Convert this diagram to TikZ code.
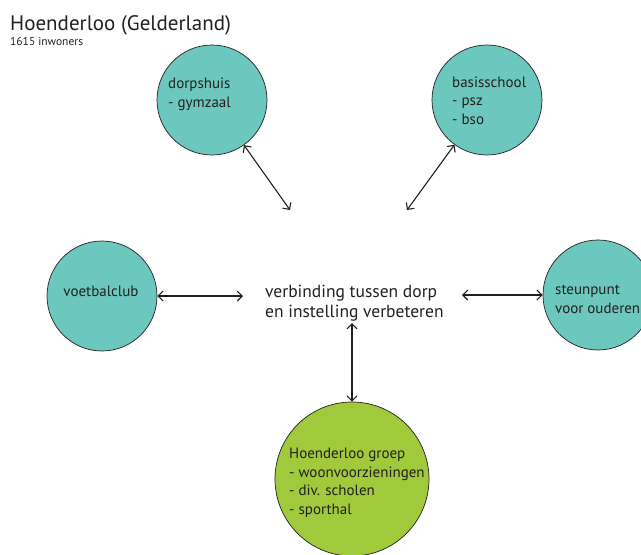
\documentclass[tikz,border=0pt]{standalone}
\usepackage{fontspec}
\setmainfont{PT Sans}
\usetikzlibrary{arrows.meta}
\definecolor{teal}{RGB}{108,200,190}
\definecolor{lime}{RGB}{160,201,60}
\definecolor{ink}{RGB}{35,31,32}
\begin{document}
\begin{tikzpicture}[x=1pt,y=-1pt,
  bol/.style={circle,draw=ink,line width=0.7pt,fill=teal,minimum size=110pt,inner sep=0pt},
  lbl/.style={text=ink,font=\fontsize{15}{18.5}\selectfont,align=left,inner sep=0pt,anchor=base west},
  pijl/.style={draw=ink,line width=1.1pt,{Straight Barb[length=5pt,width=10pt]}-{Straight Barb[length=5pt,width=10pt]}}]
\useasboundingbox (0,0) rectangle (641,555);
\node[text=ink,font=\fontsize{21}{24}\selectfont,anchor=base west,inner sep=0pt] (titel) at (10,30) {Hoenderloo (Gelderland)};
\node[text=ink,font=\fontsize{11.5}{12}\selectfont,anchor=base west,inner sep=0pt] (inw) at (10,45) {1615 inwoners};
\node[bol] (dorp) at (212,100) {};
\node[bol] (school) at (487,100) {};
\node[bol] (voetbal) at (102,296) {};
\node[bol] (steun) at (598,295) {};
\node[bol,fill=lime,minimum size=154pt] (groep) at (352,479) {};
\node[lbl] (tdorp) at (168,107) {dorpshuis\\- gymzaal};
\node[lbl] (tschool) at (452,124) {basisschool\\- psz\\- bso};
\node[lbl,anchor=base] (tvoetbal) at (101,296) {voetbalclub};
\node[lbl] (tsteun) at (555,313) {steunpunt\\voor ouderen};
\node[lbl] (tgroep) at (289,514) {Hoenderloo groep\\- woonvoorzieningen\\- div. scholen\\- sporthal};
\node[text=ink,font=\fontsize{17.5}{20}\selectfont,align=left,anchor=base west,inner sep=0pt] (mid) at (265,317) {verbinding tussen dorp\\en instelling verbeteren};
\coordinate (adorp) at (290,210);
\coordinate (aschool) at (407,210);
\coordinate (avoetbal) at (243,296);
\coordinate (asteun) at (462,295);
\coordinate (agroep) at (352,323);
\draw[pijl] (dorp) -- (adorp);
\draw[pijl] (school) -- (aschool);
\draw[pijl] (voetbal) -- (avoetbal);
\draw[pijl] (steun) -- (asteun);
\draw[pijl] (groep) -- (agroep);
\end{tikzpicture}
\end{document}
